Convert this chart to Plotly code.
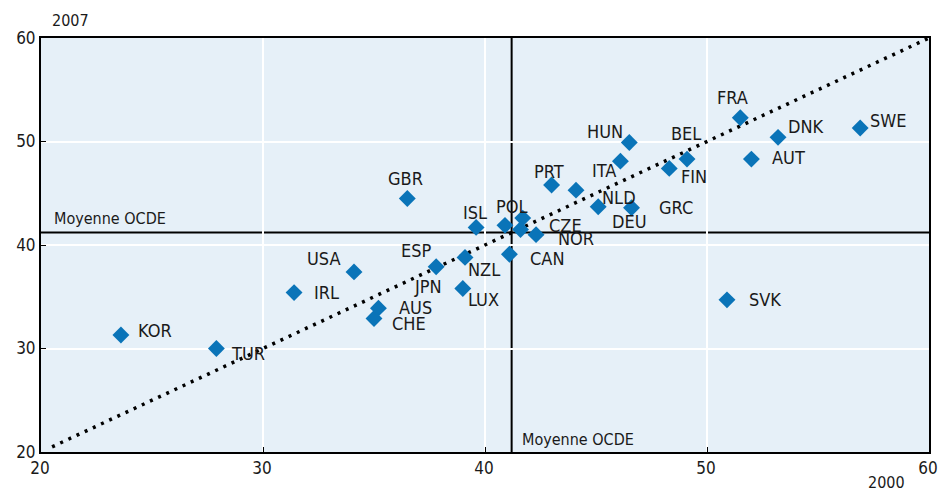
import plotly.graph_objects as go

# ---- data (2000 on x, 2007 on y) ----
countries = ["KOR", "TUR", "IRL", "USA", "AUS", "CHE", "GBR", "ESP", "NZL", "LUX",
             "ISL", "POL", "CZE", "JPN", "NOR", "CAN", "PRT", "NLD", "DEU", "GRC",
             "ITA", "HUN", "FIN", "BEL", "FRA", "AUT", "DNK", "SWE", "SVK"]
val_2000 = [23.6, 27.9, 31.4, 34.1, 35.2, 35.0, 36.5, 37.8, 39.1, 39.0,
            39.6, 40.9, 41.7, 41.6, 42.3, 41.1, 43.0, 44.1, 45.1, 46.6,
            46.1, 46.5, 48.3, 49.1, 51.5, 52.0, 53.2, 56.9, 50.9]
val_2007 = [31.3, 30.0, 35.4, 37.4, 33.9, 32.9, 44.5, 37.9, 38.8, 35.8,
            41.7, 41.9, 42.6, 41.5, 41.0, 39.1, 45.8, 45.3, 43.7, 43.6,
            48.1, 49.9, 47.4, 48.3, 52.3, 48.3, 50.4, 51.3, 34.7]
oecd_mean = 41.2
diag = [20.5, 60]
ticks = [20, 30, 40, 50, 60]

# label offsets in pixels (left edge of text relative to marker, vertical centre; + = up)
lab_dx = [16, 14, 19, -48, 20, 17, -20, -36, 2, 4,
          -14, -10, 25, -108, 21, 20, -19, 25, 13, 26,
          -29, -43, 11, -17, -24, 20, 9, 9, 21]
lab_dy = [5, -5, 0, 13, 1, -5, 20, 16, -12, -11,
          15, 19, -7, -57, -4, -4, 13, -7, -15, 0,
          -9, 11, -8, 26, 20, 2, 11, 8, 0]

font_fam = "DejaVu Sans Condensed, Liberation Sans Narrow, sans-serif"

fig = go.Figure()
fig.add_trace(go.Scatter(x=diag, y=diag, mode="lines",
                         line=dict(color="black", width=3.5, dash="3px,6px"),
                         hoverinfo="skip", showlegend=False))
fig.add_trace(go.Scatter(x=val_2000, y=val_2007, mode="markers", text=countries,
                         marker=dict(symbol="diamond", size=13, color="#0a74b8"),
                         showlegend=False))

ann = []
for c, x, y, dx, dy in zip(countries, val_2000, val_2007, lab_dx, lab_dy):
    ann.append(dict(x=x, y=y, xref="x", yref="y", text=c, showarrow=False,
                    xanchor="left", yanchor="middle", xshift=dx - 1, yshift=dy,
                    font=dict(size=18, color="#1a1a1a", family=font_fam)))
ann.append(dict(x=20.5, y=oecd_mean, xref="x", yref="y", text="Moyenne OCDE", showarrow=False,
                xanchor="left", yanchor="bottom", yshift=3,
                font=dict(size=16, color="#1a1a1a", family=font_fam)))
ann.append(dict(x=oecd_mean, y=20, xref="x", yref="y", text="Moyenne OCDE", showarrow=False,
                xanchor="left", yanchor="bottom", xshift=8, yshift=1,
                font=dict(size=16, color="#1a1a1a", family=font_fam)))
ann.append(dict(x=0.01, y=1.0, xref="paper", yref="paper", text="2007", showarrow=False,
                xanchor="left", yanchor="bottom", yshift=6,
                font=dict(size=16, color="#1a1a1a", family=font_fam)))
ann.append(dict(x=0.975, y=0, xref="paper", yref="paper", text="2000", showarrow=False,
                xanchor="right", yanchor="top", yshift=-19,
                font=dict(size=16, color="#1a1a1a", family=font_fam)))

fig.add_shape(type="line", x0=oecd_mean, x1=oecd_mean, y0=20, y1=60, xref="x", yref="y",
              line=dict(color="black", width=2), layer="below")
fig.add_shape(type="line", x0=20, x1=60, y0=oecd_mean, y1=oecd_mean, xref="x", yref="y",
              line=dict(color="black", width=2), layer="below")

axis_common = dict(range=[20, 60], tickvals=ticks, showgrid=True, gridcolor="white", gridwidth=1.5,
                   zeroline=False, showline=True, linecolor="black", linewidth=2, mirror=True,
                   ticks="inside", ticklen=5, tickcolor="black", automargin=False,
                   ticklabeloverflow="allow",
                   tickfont=dict(size=17, color="#1a1a1a", family=font_fam))
fig.update_xaxes(**axis_common, ticklabelshift=-1)
fig.update_yaxes(**axis_common)

fig.update_layout(width=938, height=492, margin=dict(l=41, r=9, t=38, b=40),
                  plot_bgcolor="#e6f0f8", paper_bgcolor="white",
                  annotations=ann, showlegend=False)
fig.write_html("out.html",
               config={"displayModeBar": False, "responsive": False},
               post_script="document.body.style.margin='0';document.body.style.overflow='hidden';"
                           "document.documentElement.style.overflow='hidden';")
